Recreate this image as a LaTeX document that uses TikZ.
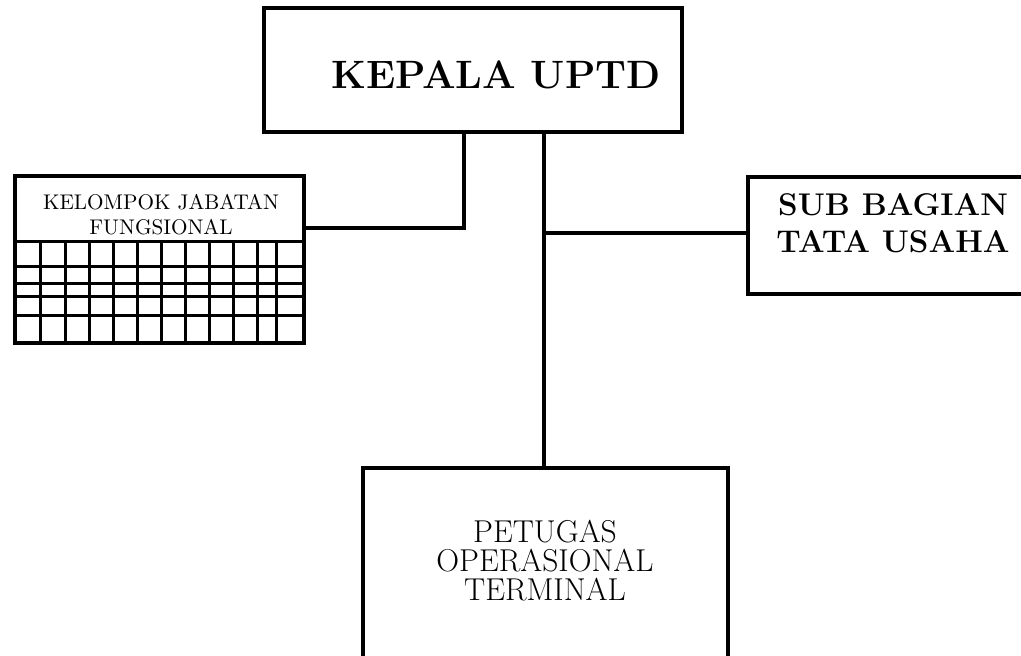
\documentclass[tikz,border=0pt]{standalone}
\usepackage{tikz}
\usetikzlibrary{positioning}

\begin{document}
\begin{tikzpicture}  [
        x = 0.5pt, y = -0.5pt,
        unit/.style = {draw, line width=2pt, rectangle, inner sep=0pt, align=center},
        link/.style = {line width=1.6pt},
        grid/.style = {line width=1.5pt}
    ]
    \useasboundingbox (0,0) rectangle (1021,655);
    \clip (0,0) rectangle (1021,655);

    \node[unit, minimum width=209pt, minimum height=62pt] (kepala) at (473,70) {};
    \node[font=\fontsize{19.8}{24}\bfseries] at (496,75) {KEPALA UPTD};

    \node[unit, minimum width=144.5pt, minimum height=83.5pt] (jabatan) at (159.5,259.5) {};
    \node[font=\fontsize{10.6}{12.5}\selectfont, align=center] (jabatantxt) at (161,214.5) {KELOMPOK JABATAN\\FUNGSIONAL};

    \node[unit, minimum width=152pt, minimum height=58.5pt] (subbag) at (900,235.5) {};
    \node[font=\fontsize{15.7}{18.5}\bfseries, align=center] at (893,223.5) {SUB BAGIAN\\TATA USAHA};

    \node[unit, minimum width=182.5pt, minimum height=130pt] (petugas) at (545.5,598) {};
    \node[font=\fontsize{15.8}{14.5}\selectfont, align=center] at (545,560.5) {PETUGAS\\OPERASIONAL\\TERMINAL};

    % grid of the fungsional box
    \draw[grid] (15,241) -- (304,241);
    \foreach \y in {266.7, 283.3, 296.7, 315}
        \draw[grid] (15,\y) -- (304,\y);
    \foreach \x in {40.7, 65.7, 89.3, 113.3, 137.3, 161.7, 185.7, 209.3, 233.3, 257.3, 276}
        \draw[grid] (\x,241) -- (\x,343);

    \coordinate (knee) at (464,228);
    \coordinate (trunk) at (544,233);

    \draw[link] (kepala.south -| knee) -- (knee) -- (jabatan.east |- knee);
    \draw[link] (kepala.south -| trunk) -- (petugas.north -| trunk);
    \draw[link] (trunk) -- (subbag.west |- trunk);

\end{tikzpicture}
\end{document}
